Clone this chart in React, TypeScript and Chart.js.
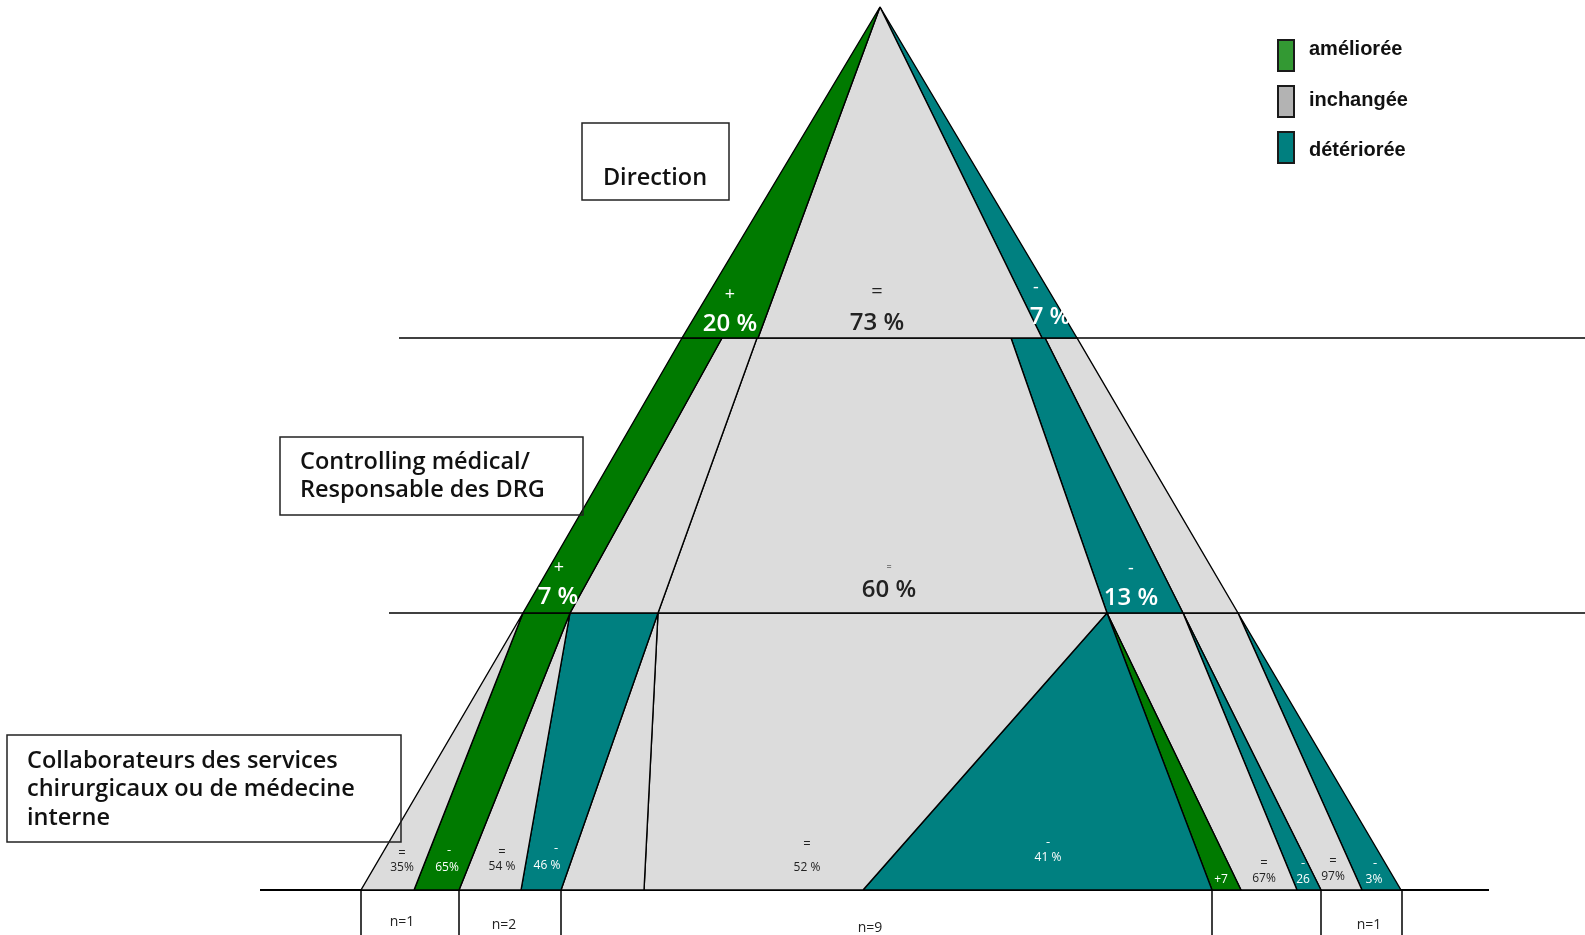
import React, { useEffect, useRef } from "react";
import { Chart, registerables } from "chart.js";

Chart.register(...registerables);

const GREEN = "#007a00";
const GRAY = "#dcdcdc";
const TEAL = "#008080";
const DARK = "#222222";
const WHITE = "#ffffff";

// Level heights of the pyramid (apex, Direction base, Controlling base, Collaborateurs base)
const levelY = [7, 338, 613, 890];

// Layer 1 : Direction
const l1Top = [880, 880, 880, 880];
const l1Bottom = [682, 758, 1042, 1077];
const l1Colors = [GREEN, GRAY, TEAL];
const l1Signs = ["+", "=", "-"];
const l1Values = ["20 %", "73 %", "7 %"];

// Layer 2 : Controlling médical / Responsable des DRG
const l2Top = [682, 722, 757, 1011, 1045, 1077];
const l2Bottom = [523, 570, 658, 1107, 1183, 1238];
const l2Colors = [GREEN, GRAY, GRAY, TEAL, GRAY];
const l2Signs = ["+", "=", "-"];
const l2Values = ["7 %", "60 %", "13 %"];

// Layer 3 : Collaborateurs des services
const l3Top = [523, 523, 570, 570, 658, 658, 1107, 1107, 1107, 1183, 1183, 1238, 1238];
const l3Bottom = [361, 414, 459, 521, 561, 644, 863, 1212, 1241, 1297, 1321, 1362, 1401];
const l3Colors = [GRAY, GREEN, GRAY, TEAL, GRAY, GRAY, TEAL, GREEN, GRAY, TEAL, GRAY, TEAL];
const l3Signs = ["=", "-", "=", "-", "=", "-", "", "=", "-", "=", "-"];
const l3Values = ["35%", "65%", "54 %", "46 %", "52 %", "41 %", "+7", "67%", "26", "97%", "3%"];

// group sizes under the base
const groupBounds = [361, 459, 561, 1212, 1321, 1402];
const groupN = ["n=1", "n=2", "n=9", "", "n=1"];

const levelNames = [
  ["Direction"],
  ["Controlling médical/", "Responsable des DRG"],
  ["Collaborateurs des services", "chirurgicaux ou de médecine", "interne"],
];

const legendLabels = ["améliorée", "inchangée", "détériorée"];
const legendColors = ["#339933", "#b3b3b3", "#007f7f"];

// ---- layout (positions of annotations) ----
const l1Pos = [
  { x: 730, ys: 295, yv: 324, ss: 18, c: WHITE },
  { x: 877, ys: 292, yv: 323, ss: 20, c: DARK },
  { x: 1050, xs: 1036, ys: 288, yv: 317, ss: 18, c: WHITE },
];
const l2Pos = [
  { x: 558, xs: 559, ys: 568, yv: 597, ss: 18, c: WHITE },
  { x: 889, ys: 567, yv: 590, ss: 9, c: DARK },
  { x: 1131, ys: 569, yv: 598, ss: 18, c: WHITE },
];
const l3Pos = [
  { x: 402, ys: 853, yv: 868, c: DARK },
  { x: 447, xs: 449, ys: 850, yv: 868, c: WHITE },
  { x: 502, ys: 852, yv: 867, c: DARK },
  { x: 547, xs: 556, ys: 848, yv: 866, c: WHITE },
  { x: 807, ys: 844, yv: 868, c: DARK },
  { x: 1048, ys: 842, yv: 858, c: WHITE },
  { x: 1221, ys: 864, yv: 880, c: WHITE },
  { x: 1264, ys: 863, yv: 879, c: DARK },
  { x: 1303, ys: 863, yv: 880, c: WHITE },
  { x: 1333, ys: 861, yv: 877, c: DARK },
  { x: 1374, xs: 1375, ys: 863, yv: 880, c: WHITE },
];
const nPos = [
  { x: 402, y: 922 },
  { x: 504, y: 925 },
  { x: 870, y: 928 },
  { x: 1266, y: 925 },
  { x: 1369, y: 925 },
];
const hLines = [
  { x0: 399, x1: 1585, w: 1.5 },
  { x0: 389, x1: 1585, w: 1.5 },
  { x0: 260, x1: 1489, w: 2 },
];
const boxes = [
  { x0: 582, y0: 123, x1: 729, y1: 200, tx: 655, ty: [178], align: "center" },
  { x0: 280, y0: 437, x1: 583, y1: 515, tx: 300, ty: [462, 490], align: "left" },
  { x0: 7, y0: 735, x1: 401, y1: 842, tx: 27, ty: [761, 789, 818], align: "left" },
];
const legendRectTop = [40, 86, 132];
const legendTextY = [49, 100, 150];

function bandPolygons(top: number[], bottom: number[], yTop: number, yBottom: number) {
  const polys: { x: number; y: number }[][] = [];
  for (let i = 0; i < top.length - 1; i++) {
    polys.push([
      { x: top[i], y: yTop },
      { x: top[i + 1], y: yTop },
      { x: bottom[i + 1], y: yBottom },
      { x: bottom[i], y: yBottom },
      { x: top[i], y: yTop },
    ]);
  }
  return polys;
}

export default function App() {
  const ref = useRef<HTMLCanvasElement | null>(null);

  useEffect(() => {
    if (!ref.current) return;
    const datasets: any[] = [];
    const layers = [
      { top: l1Top, bottom: l1Bottom, colors: l1Colors, y0: levelY[0], y1: levelY[1] },
      { top: l2Top, bottom: l2Bottom, colors: l2Colors, y0: levelY[1], y1: levelY[2] },
      { top: l3Top, bottom: l3Bottom, colors: l3Colors, y0: levelY[2], y1: levelY[3] },
    ];
    layers.forEach((L) => {
      bandPolygons(L.top, L.bottom, L.y0, L.y1).forEach((poly, i) => {
        datasets.push({
          data: poly,
          backgroundColor: L.colors[i],
          borderColor: "#000",
          borderWidth: 1.4,
          borderJoinStyle: "miter",
          fill: "shape",
          pointRadius: 0,
          tension: 0,
        });
      });
    });
    hLines.forEach((h, i) => {
      const y = levelY[i + 1];
      datasets.push({
        data: [
          { x: h.x0, y },
          { x: h.x1, y },
        ],
        borderColor: "#000",
        borderWidth: h.w,
        fill: false,
        pointRadius: 0,
      });
    });
    groupBounds.forEach((gx) => {
      datasets.push({
        data: [
          { x: gx, y: levelY[3] },
          { x: gx, y: 940 },
        ],
        borderColor: "#000",
        borderWidth: 1.5,
        fill: false,
        pointRadius: 0,
      });
    });

    const annot = {
      id: "annot",
      afterDatasetsDraw(chart: any) {
        const ctx = chart.ctx as CanvasRenderingContext2D;
        const sx = chart.scales.x;
        const sy = chart.scales.y;
        const X = (v: number) => sx.getPixelForValue(v);
        const Y = (v: number) => sy.getPixelForValue(v);
        ctx.save();
        ctx.textAlign = "center";
        ctx.textBaseline = "middle";
        const bigFont = '600 24px "Open Sans", sans-serif';
        const drawBig = (signs: string[], values: string[], pos: any[]) => {
          signs.forEach((s, i) => {
            const p = pos[i];
            ctx.fillStyle = p.c;
            ctx.font = `400 ${p.ss}px "Open Sans", sans-serif`;
            ctx.fillText(s, X(p.xs ?? p.x), Y(p.ys));
            ctx.font = bigFont;
            ctx.fillText(values[i], X(p.x), Y(p.yv));
          });
        };
        drawBig(l1Signs, l1Values, l1Pos);
        drawBig(l2Signs, l2Values, l2Pos);
        l3Values.forEach((v, i) => {
          const p = l3Pos[i];
          ctx.fillStyle = p.c;
          ctx.font = '400 13px "Open Sans", sans-serif';
          if (l3Signs[i]) ctx.fillText(l3Signs[i], X(p.xs ?? p.x), Y(p.ys));
          ctx.font = '400 12px "Open Sans", sans-serif';
          ctx.fillText(v, X(p.x), Y(p.yv));
        });
        ctx.fillStyle = DARK;
        ctx.font = '400 14px "Open Sans", sans-serif';
        groupN.forEach((t, i) => {
          if (t) ctx.fillText(t, X(nPos[i].x), Y(nPos[i].y));
        });
        ctx.strokeStyle = DARK;
        ctx.lineWidth = 1.5;
        ctx.font = '600 23.5px "Open Sans", sans-serif';
        ctx.fillStyle = "#111";
        boxes.forEach((b, i) => {
          ctx.strokeRect(X(b.x0), Y(b.y0), X(b.x1) - X(b.x0), Y(b.y1) - Y(b.y0));
          ctx.textAlign = b.align as CanvasTextAlign;
          levelNames[i].forEach((line, j) => {
            ctx.fillText(line, X(b.tx), Y(b.ty[j]));
          });
        });
        ctx.textAlign = "left";
        ctx.font = 'bold 20px "Liberation Sans", Arial, sans-serif';
        legendLabels.forEach((lab, i) => {
          const top = legendRectTop[i];
          ctx.fillStyle = legendColors[i];
          ctx.fillRect(X(1278), Y(top), 16, 31);
          ctx.lineWidth = 2;
          ctx.strokeStyle = "#1a1a1a";
          ctx.strokeRect(X(1278), Y(top), 16, 31);
          ctx.fillStyle = "#111";
          ctx.fillText(lab, X(1309), Y(legendTextY[i]));
        });
        ctx.restore();
      },
    };

    const chart = new Chart(ref.current, {
      type: "line",
      data: { datasets },
      options: {
        animation: false,
        responsive: false,
        devicePixelRatio: 1,
        layout: { padding: 0 },
        parsing: false as any,
        normalized: true,
        scales: {
          x: { type: "linear", min: 0, max: 1585, display: false },
          y: { type: "linear", min: 0, max: 935, reverse: true, display: false },
        },
        plugins: {
          legend: { display: false },
          tooltip: { enabled: false },
        },
        events: [],
      },
      plugins: [annot],
    });
    return () => chart.destroy();
  }, []);

  return (
    <div style={{ position: "absolute", left: 0, top: 0, width: 1585, height: 935, background: "#fff" }}>
      <canvas ref={ref} width={1585} height={935} style={{ display: "block" }} />
    </div>
  );
}
